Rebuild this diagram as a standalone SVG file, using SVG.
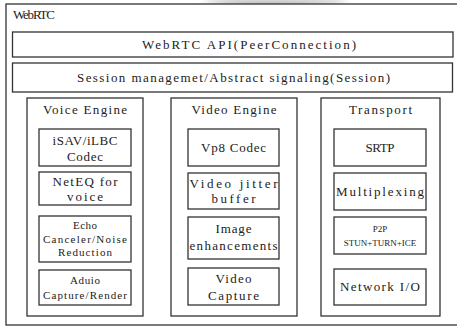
<svg xmlns="http://www.w3.org/2000/svg" width="457" height="327" viewBox="0 0 457 327">
<defs>
<style>
.box{fill:#fff;stroke:#333;stroke-width:1.3}
.t{font-family:"Liberation Serif","Times New Roman",serif;font-size:13px;fill:#222;text-anchor:middle}
.s{font-family:"Liberation Serif","Times New Roman",serif;font-size:11px;fill:#222;text-anchor:middle}
.x{font-family:"Liberation Serif","Times New Roman",serif;font-size:9px;fill:#222;text-anchor:middle}
</style>
<filter id="blur" x="-20%" y="-50%" width="140%" height="200%"><feGaussianBlur stdDeviation="3"/></filter>
</defs>
<rect width="457" height="327" fill="#fff"/>
<path d="M200,0 C240,9 290,7 335,3 L350,0 Z" fill="#999" filter="url(#blur)" opacity="0.8"/>
<g id="webrtc">
<rect class="box" x="6" y="4" width="460" height="321"/>
<text class="t" x="13" y="19" style="text-anchor:start" textLength="42" lengthAdjust="spacing">WebRTC</text>
</g>
<g id="api">
<rect class="box" x="12.5" y="32" width="440.5" height="25"/>
<text class="t" x="142" y="49" style="text-anchor:start" textLength="214" lengthAdjust="spacing">WebRTC API(PeerConnection)</text>
</g>
<g id="session">
<rect class="box" x="12.5" y="63" width="440" height="29"/>
<text class="t" x="233.5" y="82" textLength="313" lengthAdjust="spacing">Session managemet/Abstract signaling(Session)</text>
</g>
<g id="voice-engine">
<rect class="box" x="27" y="98" width="116" height="218"/>
<text class="t" x="85" y="114" textLength="84" lengthAdjust="spacing">Voice Engine</text>
</g>
<g id="codec-a">
<rect class="box" x="39" y="129" width="92" height="37"/>
<text class="t" x="85" y="145" textLength="65" lengthAdjust="spacing">iSAV/iLBC</text>
<text class="t" x="85" y="161" textLength="36" lengthAdjust="spacing">Codec</text>
</g>
<g id="neteq">
<rect class="box" x="39" y="172" width="92" height="33"/>
<text class="t" x="85" y="186" textLength="65" lengthAdjust="spacing">NetEQ for</text>
<text class="t" x="85" y="201" textLength="36" lengthAdjust="spacing">voice</text>
</g>
<g id="echo">
<rect class="box" x="39" y="216" width="92" height="46"/>
<text class="s" x="85" y="229" textLength="24" lengthAdjust="spacing">Echo</text>
<text class="s" x="85" y="243" textLength="84" lengthAdjust="spacing">Canceler/Noise</text>
<text class="s" x="85" y="256" textLength="54" lengthAdjust="spacing">Reduction</text>
</g>
<g id="audio-capture">
<rect class="box" x="39" y="270" width="92" height="35"/>
<text class="s" x="85" y="284" textLength="30" lengthAdjust="spacing">Aduio</text>
<text class="s" x="85" y="299" textLength="84" lengthAdjust="spacing">Capture/Render</text>
</g>
<g id="video-engine">
<rect class="box" x="171" y="98" width="126" height="218"/>
<text class="t" x="234" y="114" textLength="85" lengthAdjust="spacing">Video Engine</text>
</g>
<g id="vp8">
<rect class="box" x="188" y="129" width="91" height="37"/>
<text class="t" x="233.5" y="152" textLength="65" lengthAdjust="spacing">Vp8 Codec</text>
</g>
<g id="jitter">
<rect class="box" x="188" y="173" width="91" height="36"/>
<text class="t" x="233.5" y="188" textLength="88" lengthAdjust="spacing">Video jitter</text>
<text class="t" x="233.5" y="203" textLength="44" lengthAdjust="spacing">buffer</text>
</g>
<g id="image">
<rect class="box" x="188" y="217" width="91" height="42"/>
<text class="t" x="233.5" y="233" textLength="36" lengthAdjust="spacing">Image</text>
<text class="t" x="233.5" y="250" textLength="88" lengthAdjust="spacing">enhancements</text>
</g>
<g id="video-capture">
<rect class="box" x="188" y="268" width="91" height="37"/>
<text class="t" x="233.5" y="283" textLength="36" lengthAdjust="spacing">Video</text>
<text class="t" x="233.5" y="300" textLength="51" lengthAdjust="spacing">Capture</text>
</g>
<g id="transport">
<rect class="box" x="321" y="98" width="119" height="218"/>
<text class="t" x="380.5" y="114" textLength="63" lengthAdjust="spacing">Transport</text>
</g>
<g id="srtp">
<rect class="box" x="334" y="129" width="92" height="37"/>
<text class="t" x="380" y="152" textLength="29" lengthAdjust="spacing">SRTP</text>
</g>
<g id="mux">
<rect class="box" x="334" y="173" width="92" height="37"/>
<text class="t" x="380" y="196" textLength="88" lengthAdjust="spacing">Multiplexing</text>
</g>
<g id="p2p">
<rect class="box" x="334" y="217" width="92" height="37"/>
<text class="x" x="380" y="232">P2P</text>
<text class="x" x="380" y="246">STUN+TURN+ICE</text>
</g>
<g id="network">
<rect class="box" x="334" y="269" width="92" height="36"/>
<text class="t" x="380" y="291" textLength="80" lengthAdjust="spacing">Network I/O</text>
</g>
<g id="connectors"></g>
</svg>
